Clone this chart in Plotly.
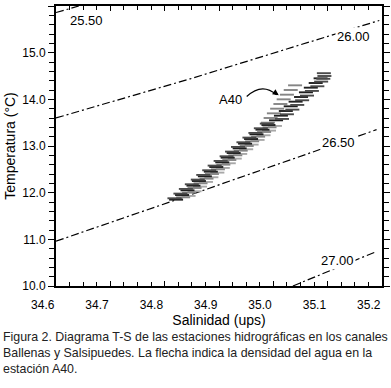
import plotly.graph_objects as go

# ---------------- data ----------------
# isopycnal (sigma-t) lines
sigma_labels = ["25.50", "26.00", "26.50", "27.00"]
iso_sal = [[34.600, 34.642], [34.600, 34.847, 35.195], [34.600, 34.822, 35.190], [35.036, 35.190]]
iso_tem = [[15.86, 16.00], [13.60, 14.44, 15.69], [10.96, 11.85, 13.35], [10.00, 10.74]]
label_sal = [34.656, 35.148, 35.120, 35.118]
label_tem = [15.70, 15.34, 13.07, 10.545]

# T-S profiles (horizontal dash marks)
prof_a_sal = [34.821, 34.832, 34.842, 34.853, 34.863, 34.874, 34.885, 34.895, 34.906, 34.916,
              34.927, 34.938, 34.948, 34.959, 34.969, 34.980, 34.991,
              35.005, 35.014, 35.023, 35.032, 35.041, 35.051, 35.060, 35.069, 35.078, 35.087]
prof_a_tem = [11.85, 11.95, 12.05, 12.15, 12.25, 12.35, 12.45, 12.55, 12.65, 12.75,
              12.85, 12.95, 13.05, 13.15, 13.25, 13.35, 13.45,
              13.55, 13.65, 13.75, 13.85, 13.95, 14.05, 14.15, 14.25, 14.35, 14.45]

prof_b_sal = [34.834, 34.845, 34.855, 34.866, 34.877, 34.887, 34.898, 34.908, 34.919, 34.930,
              34.940, 34.951, 34.961, 34.972, 34.983, 34.993,
              34.990, 34.995, 35.001, 35.007, 35.013, 35.019, 35.025, 35.032, 35.040]
prof_b_tem = [11.90, 12.00, 12.10, 12.20, 12.30, 12.40, 12.50, 12.60, 12.70, 12.80,
              12.90, 13.00, 13.10, 13.20, 13.30, 13.40,
              13.50, 13.60, 13.70, 13.80, 13.90, 14.00, 14.10, 14.20, 14.30]

prof_c_sal = [34.818, 34.829, 34.839, 34.850, 34.861, 34.871, 34.882, 34.892, 34.903, 34.914,
              34.924, 34.935, 34.945, 34.956, 34.967, 34.977, 34.988,
              35.016, 35.025, 35.035, 35.044, 35.053, 35.062, 35.071, 35.081,
              35.088, 35.092, 35.094, 35.093]
prof_c_tem = [11.88, 11.98, 12.08, 12.18, 12.28, 12.38, 12.48, 12.58, 12.68, 12.78,
              12.88, 12.98, 13.08, 13.18, 13.28, 13.38, 13.48,
              13.58, 13.68, 13.78, 13.88, 13.98, 14.08, 14.18, 14.28,
              14.38, 14.44, 14.50, 14.56]

prof_d_sal = [34.844, 34.855, 34.865, 34.876, 34.886, 34.897, 34.907, 34.918, 34.929, 34.939,
              34.950, 34.960, 34.971, 34.982, 34.992, 35.003]
prof_d_tem = [11.93, 12.03, 12.13, 12.23, 12.33, 12.43, 12.53, 12.63, 12.73, 12.83,
              12.93, 13.03, 13.13, 13.23, 13.33, 13.43]

x_ticks = [34.6, 34.7, 34.8, 34.9, 35.0, 35.1, 35.2]
y_ticks = [10.0, 11.0, 12.0, 13.0, 14.0, 15.0, 16.0]

station_label = "A40"
caption = ["Figura 2. Diagrama T-S de las estaciones hidrográficas en los canales",
           "Ballenas y Salsipuedes. La flecha indica la densidad del agua en la",
           "estación A40."]

FONT = "Liberation Sans Narrow, Liberation Sans, Arial, sans-serif"

fig = go.Figure()

for s, t in zip(iso_sal, iso_tem):
    fig.add_trace(go.Scatter(x=s, y=t, mode="lines",
                             line=dict(color="black", width=1.2, dash="8px,3px,2px,3px"),
                             showlegend=False, hoverinfo="skip"))

for s, t, c in [(prof_d_sal, prof_d_tem, "#a8a8a8"),
                (prof_a_sal, prof_a_tem, "#1e1e1e"),
                (prof_b_sal, prof_b_tem, "#858585"),
                (prof_c_sal, prof_c_tem, "#4a4a4a")]:
    fig.add_trace(go.Scatter(x=s, y=t, mode="markers",
                             marker=dict(symbol="line-ew", size=10,
                                         line=dict(color=c, width=1.9)),
                             showlegend=False, hoverinfo="skip"))

for lab, s, t in zip(sigma_labels, label_sal, label_tem):
    fig.add_annotation(x=s, y=t, text=lab, showarrow=False, bgcolor="white",
                       borderpad=1, font=dict(family=FONT, size=13, color="black"))

fig.add_annotation(x=34.922, y=13.99, text=station_label, showarrow=False,
                   font=dict(family=FONT, size=13, color="black"))
# curved arrow
fig.add_shape(type="path", xref="x", yref="y",
              path="M 34.951 14.06 Q 34.979 14.37 35.006 14.10",
              line=dict(color="black", width=1.2))
fig.add_annotation(x=35.010, y=14.09, ax=-6, ay=-4, text="", showarrow=True,
                   arrowhead=2, arrowsize=1, arrowwidth=1.2, arrowcolor="black")

for i, line in enumerate(caption):
    fig.add_annotation(xref="paper", yref="paper", x=-55.5 / 327, xanchor="left",
                       y=(286.5 - [338, 354, 370][i]) / 280.5, yanchor="middle",
                       text=line, showarrow=False,
                       font=dict(family=FONT, size=12.4, color="#222222"))

fig.update_xaxes(range=[34.6, 35.2], tickvals=x_ticks, ticktext=[f"{v:.1f}" for v in x_ticks],
                 ticks="inside", ticklen=5, tickwidth=1.2, tickcolor="black",
                 ticklabelposition="outside left", ticklabelstandoff=7,
                 minor=dict(dtick=0.025, tick0=34.6, ticks="inside", ticklen=4, tickcolor="black"),
                 showline=True, linecolor="black", linewidth=2, mirror="ticks",
                 showgrid=False, zeroline=False, automargin=False,
                 tickfont=dict(family=FONT, size=12, color="black"),
                 title=dict(text="Salinidad (ups)", font=dict(family=FONT, size=14, color="black"),
                            standoff=2))
fig.update_yaxes(range=[10, 16], tickvals=y_ticks, ticktext=[f"{v:.1f}" for v in y_ticks],
                 ticks="outside", ticklen=6, tickwidth=1.2, tickcolor="black",
                 minor=dict(dtick=0.2, tick0=10, ticks="outside", ticklen=5, tickcolor="black"),
                 showline=True, linecolor="black", linewidth=2, mirror="ticks",
                 showgrid=False, zeroline=False, automargin=False,
                 tickfont=dict(family=FONT, size=12, color="black"),
                 title=dict(text="Temperatura (°C)", font=dict(family=FONT, size=14, color="black"),
                            standoff=3))

fig.update_layout(width=391, height=388, margin=dict(l=55.5, r=8.5, t=6, b=101.5),
                  paper_bgcolor="white", plot_bgcolor="white")

fig.write_html("out.html", config={"displayModeBar": False},
               post_script="document.body.style.margin='0';document.body.style.padding='0';")
